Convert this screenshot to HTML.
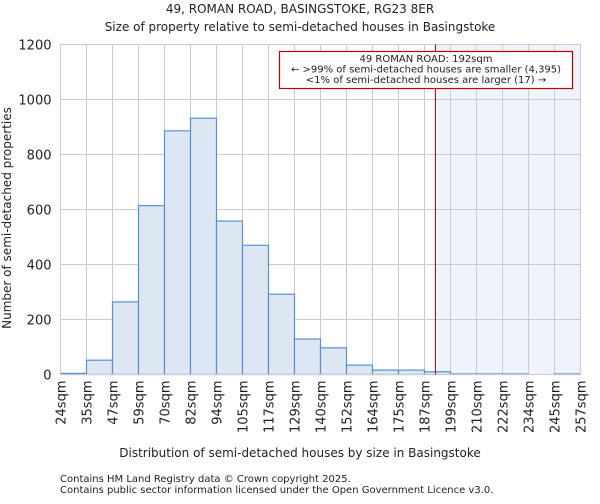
<!DOCTYPE html>
<html><head><meta charset="utf-8"><style>
body{margin:0;background:#fff;font-family:"DejaVu Sans","Liberation Sans",sans-serif;}
svg text{font-family:"DejaVu Sans","Liberation Sans",sans-serif;fill:#222;}
</style></head><body>
<svg id="chart" width="600" height="500">
<text x="300" y="13" font-size="12" text-anchor="middle">49, ROMAN ROAD, BASINGSTOKE, RG23 8ER</text>
<text x="300" y="31" font-size="12" text-anchor="middle">Size of property relative to semi-detached houses in Basingstoke</text>
<g id="plot"></g>
<text x="300" y="457" font-size="12" text-anchor="middle">Distribution of semi-detached houses by size in Basingstoke</text>
<text transform="translate(11,218) rotate(-90)" font-size="12" text-anchor="middle">Number of semi-detached properties</text>
<text x="60" y="482" font-size="10" fill="#333">Contains HM Land Registry data © Crown copyright 2025.</text>
<text x="60" y="493" font-size="10" fill="#333">Contains public sector information licensed under the Open Government Licence v3.0.</text>
</svg>
<script>
const binLabels=["24sqm","35sqm","47sqm","59sqm","70sqm","82sqm","94sqm","105sqm","117sqm","129sqm","140sqm","152sqm","164sqm","175sqm","187sqm","199sqm","210sqm","222sqm","234sqm","245sqm","257sqm"];
const counts=[4,52,264,614,886,932,558,470,292,129,97,34,16,16,10,2,2,2,0,2];
const yTicks=[0,200,400,600,800,1000,1200];
const markerIndex=14.42;
const NS="http://www.w3.org/2000/svg";
const g=document.getElementById('plot');
const L=60.5,R=580.5,T=44.5,B=374.5,yMax=1200;
const x=i=>L+(R-L)*i/counts.length;
const y=v=>B-(B-T)*v/yMax;
function mk(t,a){const e=document.createElementNS(NS,t);for(const k in a)e.setAttribute(k,a[k]);g.appendChild(e);return e;}
let e=mk('rect',{x:x(markerIndex),y:T,width:R-x(markerIndex),height:B-T,fill:'#eef3fc'});


yTicks.forEach(v=>{let l=mk('line',{x1:L,x2:R,y1:y(v),y2:y(v),stroke:'#ccc'});


let t=mk('text',{x:L-9,y:y(v)+5,'font-size':13,'text-anchor':'end'});t.textContent=v;

});
binLabels.forEach((s,i)=>{let l=mk('line',{x1:x(i),x2:x(i),y1:T,y2:B,stroke:'#ccc'});


let t=mk('text',{'font-size':13,'text-anchor':'end',transform:`translate(${x(i)+5},${B+6}) rotate(-90)`});t.textContent=s;

});
counts.forEach((c,i)=>{if(c<=0)return;let r=mk('rect',{x:x(i),y:y(c),width:x(i+1)-x(i),height:B-y(c),fill:'#dde7f4',stroke:'#5a8fd6','stroke-width':1.2});

});
e=mk('rect',{x:L,y:T,width:R-L,height:B-T,fill:'none',stroke:'#ccc'});


e=mk('line',{x1:x(markerIndex),x2:x(markerIndex),y1:T,y2:B,stroke:'#b00000','stroke-width':1});


e=mk('rect',{x:279.5,y:51.5,width:293,height:37,fill:'#fff',stroke:'#c00000','stroke-width':1.2});


["49 ROMAN ROAD: 192sqm","← >99% of semi-detached houses are smaller (4,395)","<1% of semi-detached houses are larger (17) →"].forEach((s,k)=>{
let t=mk('text',{x:426,y:62+k*10.5,'font-size':10,'text-anchor':'middle'});t.textContent=s;

});
</script>
</body></html>
